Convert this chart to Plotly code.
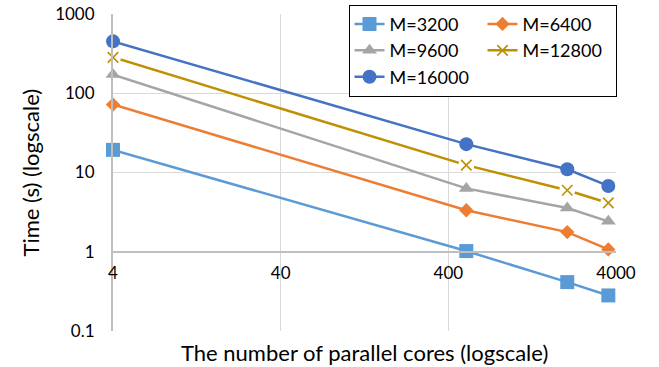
import plotly.graph_objects as go

cores = [4, 512, 2048, 3600]
series_names = ["M=3200", "M=6400", "M=9600", "M=12800", "M=16000"]
t3200 = [19.3, 1.02, 0.414, 0.281]
t6400 = [72, 3.34, 1.77, 1.07]
t9600 = [172, 6.3, 3.57, 2.42]
t12800 = [284, 12.4, 5.97, 4.13]
t16000 = [452, 22.8, 11.0, 6.77]
x_ticks = [4, 40, 400, 4000]
x_ticktext = ["4", "40", "400", "4000"]
y_ticks = [0.1, 1, 10, 100, 1000]
y_ticktext = ["0.1", "1", "10", "100", "1000"]

colors = ["#5B9BD5", "#ED7D31", "#A5A5A5", "#BF9000", "#4472C4"]
FONT = "Lato, 'Open Sans', sans-serif"

fig = go.Figure()

def add(name, ys, color, symbol, size, lw=2.5):
    fig.add_trace(go.Scatter(
        x=cores, y=ys, name=name, mode="lines+markers", cliponaxis=False,
        line=dict(color=color, width=lw),
        marker=dict(symbol=symbol, size=size, color=color,
                    line=dict(width=0, color=color)),
    ))

add(series_names[0], t3200, colors[0], "square", 14)
add(series_names[1], t6400, colors[1], "diamond", 11)
add(series_names[2], t9600, colors[2], "triangle-up", 13)
# 12800 with x marker and white gap
fig.add_trace(go.Scatter(
    x=cores, y=t12800, name=series_names[3], mode="lines+markers", cliponaxis=False,
    line=dict(color=colors[3], width=2.5),
    marker=dict(symbol="x-thin-open", size=10.5, color=colors[3],
                line=dict(width=1.6, color=colors[3])),
))
fig.add_trace(go.Scatter(
    x=cores, y=t12800, mode="markers", showlegend=False, hoverinfo="skip", cliponaxis=False,
    marker=dict(symbol="circle", size=16, color="white", line=dict(width=0)),
))
fig.add_trace(go.Scatter(
    x=cores, y=t12800, mode="markers", showlegend=False, hoverinfo="skip", cliponaxis=False,
    marker=dict(symbol="x-thin-open", size=10.5, color=colors[3],
                line=dict(width=1.6, color=colors[3])),
))
add(series_names[4], t16000, colors[4], "circle", 14)

fig.update_layout(
    width=659, height=367,
    margin=dict(l=113, r=43, t=14, b=36, autoexpand=False),
    paper_bgcolor="white", plot_bgcolor="white",
    font=dict(family=FONT, size=17, color="#000000"),
    showlegend=True,
    legend=dict(
        orientation="h", x=1.001, xanchor="right", y=0.884, yanchor="middle",
        bordercolor="#000000", borderwidth=1, bgcolor="white",
        entrywidth=88, entrywidthmode="pixels",
        font=dict(family=FONT, size=18, color="#000000"),
    ),
    xaxis=dict(
        type="log", range=[0.60200, 3.60210],
        tickvals=x_ticks, ticktext=x_ticktext,
        showgrid=True, gridcolor="#D9D9D9", gridwidth=1,
        showline=True, linecolor="#BFBFBF", linewidth=2,
        anchor="free", position=0.25,
        ticks="", ticklabelstandoff=6,
        tickfont=dict(family=FONT, size=17, color="#000000"),
        zeroline=False,
    ),
    yaxis=dict(
        type="log", range=[-1, 3],
        tickvals=y_ticks, ticktext=y_ticktext,
        showgrid=True, gridcolor="#D9D9D9", gridwidth=1,
        showline=True, linecolor="#BFBFBF", linewidth=2,
        ticks="", ticklabelstandoff=13,
        tickfont=dict(family=FONT, size=17, color="#000000"),
        zeroline=False,
    ),
    annotations=[
        dict(text="The number of parallel cores (logscale)", xref="paper", yref="paper",
             x=0.5, y=-0.067, xanchor="center", yanchor="middle", showarrow=False,
             font=dict(family=FONT, size=22, color="#000000")),
        dict(text="Time (s) (logscale)", xref="paper", yref="paper",
             x=-0.165, y=0.5, xanchor="center", yanchor="middle", showarrow=False,
             textangle=-90, font=dict(family=FONT, size=22, color="#000000")),
    ],
)

fig.write_html("out.html", config={"displayModeBar": False},
               post_script="document.body.style.margin='0';document.body.style.overflow='hidden';")
